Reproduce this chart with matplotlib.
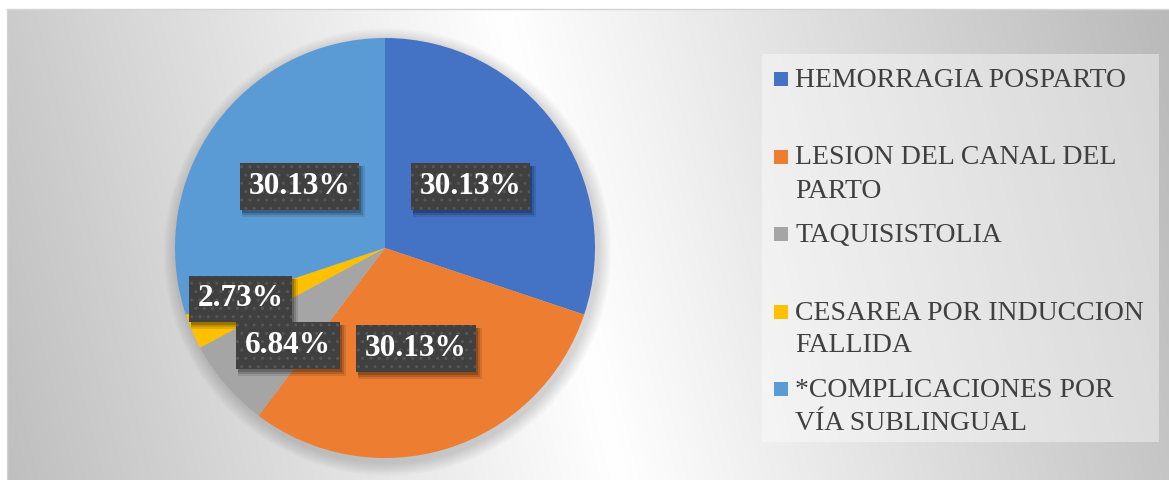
import numpy as np
import matplotlib
matplotlib.use("Agg")
import matplotlib.pyplot as plt
from matplotlib.patches import Rectangle, Circle
import matplotlib.transforms as mtransforms

categories = ["HEMORRAGIA POSPARTO",
              "LESION DEL CANAL DEL\nPARTO",
              "TAQUISISTOLIA",
              "CESAREA POR INDUCCION\nFALLIDA",
              "*COMPLICACIONES POR\nVÍA SUBLINGUAL"]
percentages = [30.13, 30.13, 6.84, 2.73, 30.13]
value_labels = ["30.13%", "30.13%", "6.84%", "2.73%", "30.13%"]
colors = ["#4472C4", "#ED7D31", "#A5A5A5", "#FFC000", "#5B9BD5"]

# label placement (fraction of radius, angle tweak in degrees)
label_r = [0.5, 0.5, 0.655, 0.73, 0.5]
label_dang = [0.0, 0.0, 4.5, -4.0, 0.0]

W, H = 1169, 480
fig = plt.figure(figsize=(W / 100, H / 100), dpi=100)
fig.patch.set_facecolor("white")

# ---- background with gradient (pixel coordinates, y downward)
bg = fig.add_axes([7 / W, 0, (W - 7) / W, (H - 9) / H])
xs = np.linspace(7, W, 600)
ys = np.linspace(9, H, 240)
X, Y = np.meshgrid(xs, ys)
cline = 560 + 0.25 * (Y - 240)
d = np.where(X < cline, (cline - X) / 560, (X - cline) / 560)
val = 1 - 0.23 * np.clip(d, 0, 1.2)
img = np.dstack([val] * 3)
bg.imshow(img, extent=[7, W, H, 9], aspect="auto", interpolation="bilinear")
bg.set_xlim(7, W)
bg.set_ylim(H, 9)
bg.set_xticks([])
bg.set_yticks([])
for s in ["bottom", "right"]:
    bg.spines[s].set_visible(False)
for s in ["top", "left"]:
    bg.spines[s].set_color("#d4d4d4")
    bg.spines[s].set_linewidth(1)

# ---- legend (drawn in pixel coordinates of bg axes)
bg.add_patch(Rectangle((762, 54), 1159 - 762, 442 - 54, facecolor="white",
                       alpha=0.4, edgecolor="none", zorder=2))
base0, slot, lstep = 87, 77.5, 33
for i, (cat, col) in enumerate(zip(categories, colors)):
    b = base0 + i * slot
    bg.add_patch(Rectangle((774, b - 15), 14, 14, facecolor=col,
                           edgecolor="none", zorder=3))
    for j, line in enumerate(cat.split("\n")):
        bg.text(795, b + j * lstep, line, fontsize=20, family="Liberation Serif",
                color="#404040", va="baseline", ha="left", zorder=3)

# ---- pie
R = 210
cx, cy = 385, 248
pax = fig.add_axes([(cx - 1.1 * R) / W, (H - cy - 1.1 * R) / H, 2.2 * R / W, 2.2 * R / H])
# soft shadow (offset down-right)
for k in range(8):
    rr = 1.0 + 0.008 * (k + 1)
    pax.add_patch(Circle((0.012, -0.02), rr, facecolor="black", alpha=0.02,
                         edgecolor="none", zorder=0))
wedges, _ = pax.pie(percentages, colors=colors, startangle=90,
                    counterclock=False, radius=1,
                    wedgeprops=dict(linewidth=0, zorder=1))
pax.set_xlim(-1.1, 1.1)
pax.set_ylim(-1.1, 1.1)
pax.set_aspect("equal")
pax.axis("off")

label_texts = []
for w, lab, r, da in zip(wedges, value_labels, label_r, label_dang):
    ang = np.deg2rad((w.theta1 + w.theta2) / 2 + da)
    x, y = r * np.cos(ang), r * np.sin(ang)
    t = pax.text(x, y, lab, fontsize=22.5, family="Liberation Serif", weight="bold",
                 color="white", ha="center", va="center", zorder=6,
                 bbox=dict(boxstyle="square,pad=0.28", fc="#404040", ec="#575757",
                           lw=0, hatch=".."))
    label_texts.append(t)

# drop shadows behind the label boxes (display coordinates)
fig.canvas.draw()
renderer = fig.canvas.get_renderer()
ident = mtransforms.IdentityTransform()
for t in label_texts:
    bb = t.get_bbox_patch().get_window_extent(renderer)
    for ox, oy, grow, a in [(4, -5, 2, 0.10), (3, -4, 1, 0.15), (2, -3, 0, 0.2)]:
        pax.add_patch(Rectangle((bb.x0 + ox - grow, bb.y0 + oy - grow),
                                bb.width + 2 * grow, bb.height + 2 * grow,
                                transform=ident, facecolor="black", alpha=a,
                                edgecolor="none", zorder=4, clip_on=False))

fig.savefig("out.png", dpi=100)
